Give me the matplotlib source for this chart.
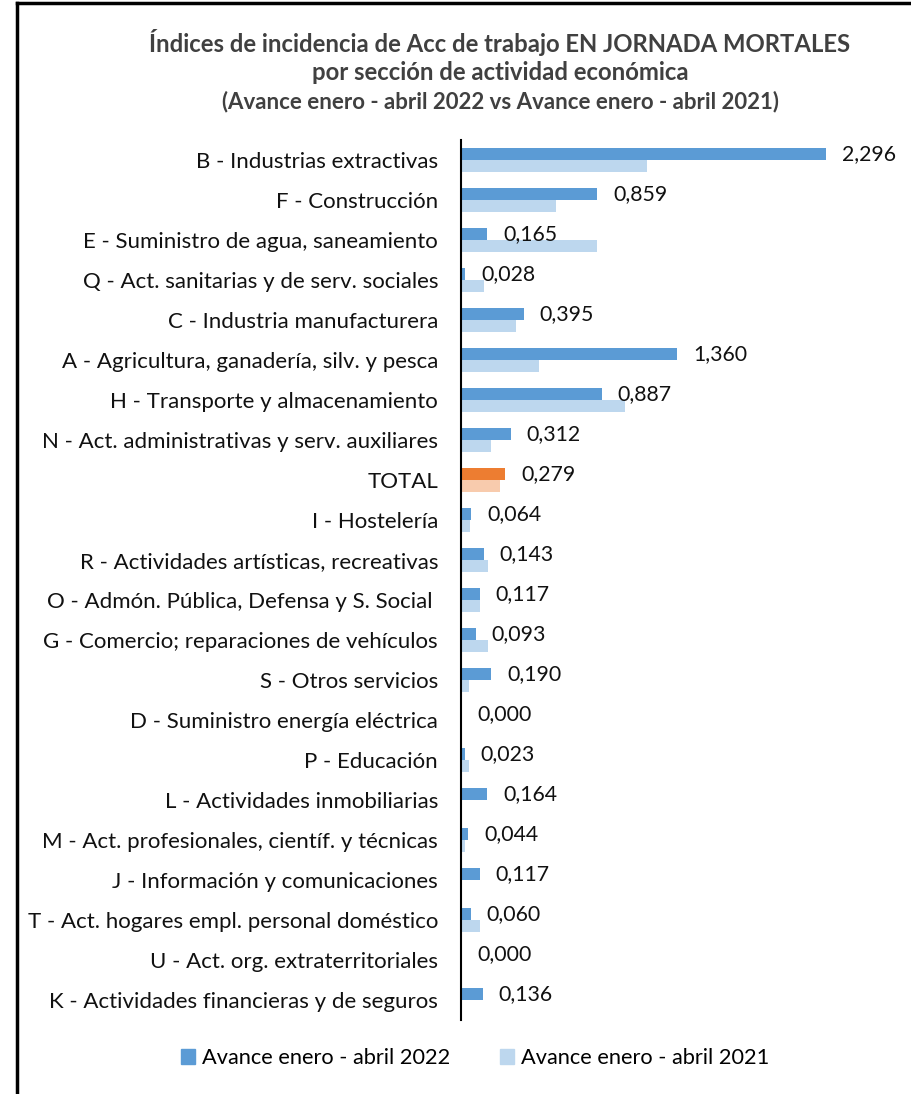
import matplotlib.pyplot as plt
from matplotlib.lines import Line2D
from matplotlib.patches import Patch

plt.rcParams['font.family'] = ['Lato', 'DejaVu Sans']

# datos
categorias = [
    "B - Industrias extractivas",
    "F - Construcción",
    "E - Suministro de agua, saneamiento",
    "Q - Act. sanitarias y de serv. sociales",
    "C - Industria manufacturera",
    "A - Agricultura, ganadería, silv. y pesca",
    "H - Transporte y almacenamiento",
    "N - Act. administrativas y serv. auxiliares",
    "TOTAL",
    "I - Hostelería",
    "R - Actividades artísticas, recreativas",
    "O - Admón. Pública, Defensa y S. Social ",
    "G - Comercio; reparaciones de vehículos",
    "S - Otros servicios",
    "D - Suministro energía eléctrica",
    "P - Educación",
    "L - Actividades inmobiliarias",
    "M - Act. profesionales, científ. y técnicas",
    "J - Información y comunicaciones",
    "T - Act. hogares empl. personal doméstico",
    "U - Act. org. extraterritoriales",
    "K - Actividades financieras y de seguros",
]
valores_2022 = [2.296, 0.859, 0.165, 0.028, 0.395, 1.360, 0.887, 0.312, 0.279, 0.064, 0.143,
                0.117, 0.093, 0.190, 0.000, 0.023, 0.164, 0.044, 0.117, 0.060, 0.000, 0.136]
valores_2021 = [1.173, 0.596, 0.856, 0.143, 0.346, 0.491, 1.035, 0.191, 0.244, 0.057, 0.168,
                0.120, 0.170, 0.048, 0.000, 0.048, 0.000, 0.025, 0.000, 0.120, 0.000, 0.000]
serie_2022 = "Avance enero - abril 2022"
serie_2021 = "Avance enero - abril 2021"

#colores
azul = "#5B9BD5"
azul_claro = "#BDD7EE"
naranja = "#ED7D31"
naranja_claro = "#F8CBAD"

fig = plt.figure(figsize=(9.12, 10.94), dpi=100)
ax = fig.add_axes([461/912, 74/1094, (894-461)/912, 880/1094])

y = list(range(len(categorias)))
c22 = [naranja if c == "TOTAL" else azul for c in categorias]
c21 = [naranja_claro if c == "TOTAL" else azul_claro for c in categorias]
h = 0.29
ax.barh([i - h/2 for i in y], valores_2022, height=h, color=c22)
ax.barh([i + h/2 for i in y], valores_2021, height=h, color=c21)

ax.set_xlim(0, (894-461)/158.8)
ax.set_ylim(len(categorias) - 0.5, -0.5)
ax.set_yticks(y)
ax.set_yticklabels(categorias, fontsize=16, color="#111111")
ax.tick_params(axis='y', length=0, pad=16.5)
ax.set_xticks([])
for s in ["top", "right", "bottom"]:
    ax.spines[s].set_visible(False)
ax.spines["left"].set_linewidth(1.5)

# etiquetas de valor
for i, v in enumerate(valores_2022):
    ax.annotate(f"{v:.3f}".replace(".", ","), (v, i - h/2), xytext=(16, 0),
                textcoords="offset pixels", va="center", ha="left", fontsize=15.3,
                color="#111111")

# titulo
fig.text(500/912, 1 - 42/1094, "Índices de incidencia de Acc de trabajo EN JORNADA MORTALES",
         ha="center", va="center", fontsize=17.2, fontweight="bold", color="#404040")
fig.text(500/912, 1 - 72/1094, "por sección de actividad económica",
         ha="center", va="center", fontsize=17.2, fontweight="bold", color="#404040")
fig.text(500/912, 1 - 102/1094, "(Avance enero - abril 2022 vs Avance enero - abril 2021)",
         ha="center", va="center", fontsize=16, fontweight="bold", color="#404040")

# leyenda
handles = [Patch(color=azul, label=serie_2022), Patch(color=azul_claro, label=serie_2021)]
fig.legend(handles=handles, loc="center", bbox_to_anchor=(475/912, 1 - 1058/1094), ncol=2,
           frameon=False, fontsize=15.7, handlelength=0.65, handleheight=0.65,
           handletextpad=0.3, columnspacing=2.3)

# marco
fig.add_artist(Line2D([17/912, 17/912], [0, 1 - 3/1094], color="black", lw=2.5))
fig.add_artist(Line2D([17/912, 1], [1 - 3/1094, 1 - 3/1094], color="black", lw=2.5))

fig.savefig("out.png", dpi=100)
